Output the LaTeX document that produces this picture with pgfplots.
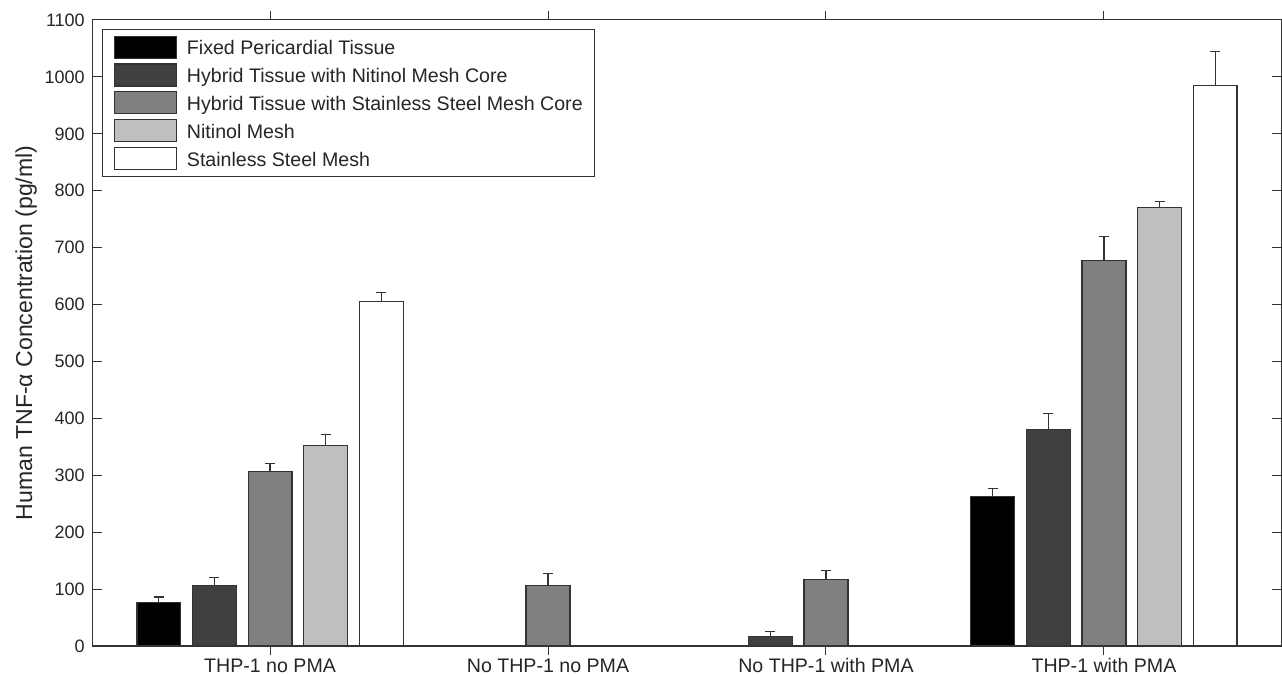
\documentclass[border=0pt]{standalone}
\usepackage{fontspec}
\setmainfont{Liberation Sans}
\usepackage{pgfplots}
\pgfplotsset{compat=1.18}
\definecolor{cA}{gray}{0.0}
\definecolor{cB}{gray}{0.25}
\definecolor{cC}{gray}{0.50}
\definecolor{cD}{gray}{0.75}
\definecolor{cE}{gray}{1.0}
\definecolor{edge}{gray}{0.2}
\begin{document}
\begin{tikzpicture}
\begin{axis}[name=ax, scale only axis, width=891pt, height=469.5pt,
  xmin=0.363, xmax=4.637, ymin=0, ymax=1100,
  ytick={0,100,...,1100}, xtick={1,2,3,4},
  xticklabels={THP-1 no PMA, No THP-1 no PMA, No THP-1 with PMA, THP-1 with PMA},
  tick align=inside, major tick length=7pt,
  tick style={line width=0.75pt, color=edge},
  axis line style={line width=0.75pt, color=edge},
  /pgf/number format/assume math mode=true,
  /pgf/number format/1000 sep={},
  ticklabel style={text=black!85},
  yticklabel style={font=\fontsize{13.5}{16}\selectfont, inner xsep=6pt},
  xticklabel style={font=\fontsize{14.7}{17}\selectfont, inner ysep=0pt, yshift=-2.3pt},
  ylabel={Human TNF-α Concentration (pg/ml)},
  every axis y label/.style={at={(axis description cs:-0.0513,0.5)}, rotate=90, anchor=base,
    font=\fontsize{17.3}{20}\selectfont, text=black!85},
  ybar, bar width=0.158,
  every axis plot post/.append style={draw=edge, line width=0.9pt,
    legend image code/.code={\draw[##1, line width=0.9pt] (0pt,-2.5pt) rectangle (46.5pt,14pt);}},
  legend cell align=left,
  legend style={at={(0,1)}, anchor=north west, xshift=6.5pt, yshift=-6.8pt,
    draw=edge, line width=0.75pt, inner xsep=8.7pt, inner ysep=4.5pt,
    nodes={inner sep=0pt, text=black!85}, row sep=3.5pt,
    cells={anchor=base west},
    /tikz/every odd column/.append style={column sep=7.5pt},
    font=\fontsize{14.7}{17}\selectfont},
  error bars/y dir=plus, error bars/y explicit,
  error bars/error bar style={line width=0.9pt, draw=edge},
  error bars/error mark options={rotate=90, mark size=3.75pt, line width=0.9pt, draw=edge},
]
\addplot[fill=cA, bar shift=-0.4] coordinates {(1,76) +- (0,10) (4,263) +- (0,14)};
\addplot[fill=cB, bar shift=-0.2] coordinates {(1,107) +- (0,13) (3,16) +- (0,10) (4,380) +- (0,29)};
\addplot[fill=cC, bar shift=0] coordinates {(1,306) +- (0,14) (2,107) +- (0,20) (3,117) +- (0,15) (4,678) +- (0,42)};
\addplot[fill=cD, bar shift=0.2] coordinates {(1,353) +- (0,19) (4,770) +- (0,11)};
\addplot[fill=cE, bar shift=0.4] coordinates {(1,606) +- (0,15) (4,985) +- (0,60)};
\legend{Fixed Pericardial Tissue, Hybrid Tissue with Nitinol Mesh Core, Hybrid Tissue with Stainless Steel Mesh Core, Nitinol Mesh, Stainless Steel Mesh}
\end{axis}
\pgfresetboundingbox
\path[use as bounding box] ([shift={(-69.75pt,-21.5pt)}]ax.south west) rectangle ([shift={(0.75pt,15pt)}]ax.north east);
\end{tikzpicture}
\end{document}
